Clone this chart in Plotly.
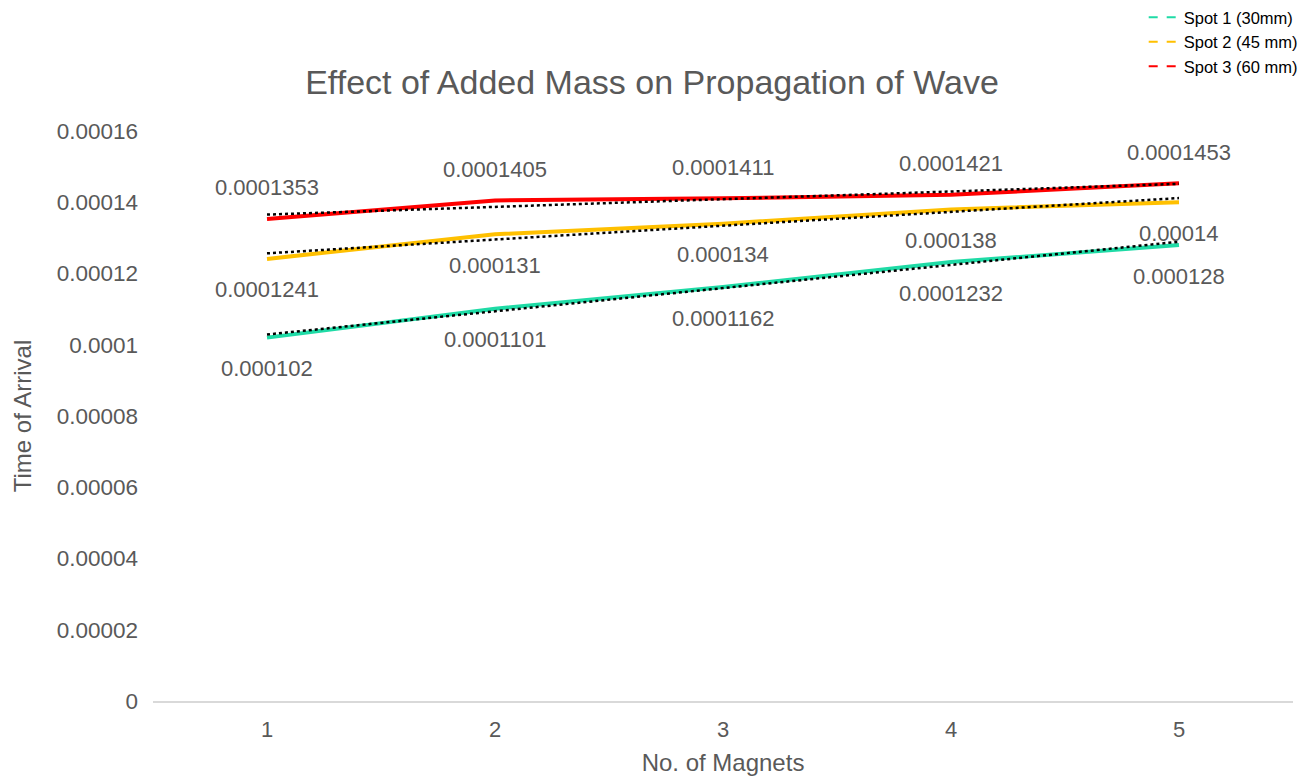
import numpy as np
import plotly.graph_objects as go

magnets = [1, 2, 3, 4, 5]
spot1 = [0.000102, 0.0001101, 0.0001162, 0.0001232, 0.000128]
spot2 = [0.0001241, 0.000131, 0.000134, 0.000138, 0.00014]
spot3 = [0.0001353, 0.0001405, 0.0001411, 0.0001421, 0.0001453]
names = ["Spot 1 (30mm)", "Spot 2 (45 mm)", "Spot 3 (60 mm)"]
colors = ["#1FDBA6", "#FFC000", "#FF0000"]
label_side = [-1, -1, 1]  # below, below, above
ytick_vals = [0, 0.00002, 0.00004, 0.00006, 0.00008, 0.0001, 0.00012, 0.00014, 0.00016]
ytick_text = ["0", "0.00002", "0.00004", "0.00006", "0.00008", "0.0001", "0.00012", "0.00014", "0.00016"]

FONT = "Liberation Sans, Arial"
GRAY = "#595959"

series = [spot1, spot2, spot3]
fig = go.Figure()
annotations = []
for vals, col in zip(series, colors):
    fig.add_trace(go.Scatter(x=magnets, y=vals, mode="lines", line=dict(color=col, width=4),
                             showlegend=False, hoverinfo="skip"))
for vals, side in zip(series, label_side):
    coef = np.polyfit(magnets, vals, 1)
    trend = np.polyval(coef, magnets)
    fig.add_trace(go.Scatter(x=magnets, y=trend, mode="lines",
                             line=dict(color="#000000", width=2.5, dash="dot"),
                             showlegend=False, hoverinfo="skip"))
    for xv, yv in zip(magnets, vals):
        annotations.append(dict(x=xv, y=yv, xref="x", yref="y", text=f"{yv:.7f}".rstrip("0"),
                                showarrow=False, yshift=31 * side,
                                font=dict(family=FONT, size=22, color=GRAY)))
# legend entries (dashed symbols)
for name, col in zip(names, colors):
    fig.add_trace(go.Scatter(x=[None], y=[None], mode="lines", name=name,
                             line=dict(color=col, width=2, dash="dash")))

fig.update_layout(
    width=1304, height=778,
    margin=dict(l=153, r=11, t=131, b=77, autoexpand=False),
    paper_bgcolor="white", plot_bgcolor="white",
    font=dict(family=FONT, color=GRAY),
    title=dict(text="Effect of Added Mass on Propagation of Wave", x=0.5, xanchor="center",
               y=0.895, yanchor="middle", yref="container",
               font=dict(size=34, color=GRAY)),
    annotations=annotations,
    legend=dict(xref="container", yref="container", x=0.999, xanchor="right", y=1.002, yanchor="top",
                font=dict(size=16.5, color="#000000"), itemwidth=30, tracegroupgap=0,
                bgcolor="rgba(0,0,0,0)"),
    xaxis=dict(range=[0.5, 5.5], tickvals=magnets, ticktext=[str(m) for m in magnets],
               showgrid=False, zeroline=False, showline=True, linecolor="#D9D9D9", linewidth=1.5,
               ticks="", tickfont=dict(size=22, color=GRAY), ticklabelstandoff=8,
               title=dict(text="No. of Magnets", font=dict(size=24, color=GRAY), standoff=13)),
    yaxis=dict(range=[0, 0.00016], tickvals=ytick_vals, ticktext=ytick_text,
               showgrid=False, zeroline=False, showline=False, ticks="",
               tickfont=dict(size=22.5, color=GRAY), ticklabelstandoff=14,
               title=dict(text="Time of Arrival", font=dict(size=24, color=GRAY), standoff=18)),
)
fig.write_html("out.html")
